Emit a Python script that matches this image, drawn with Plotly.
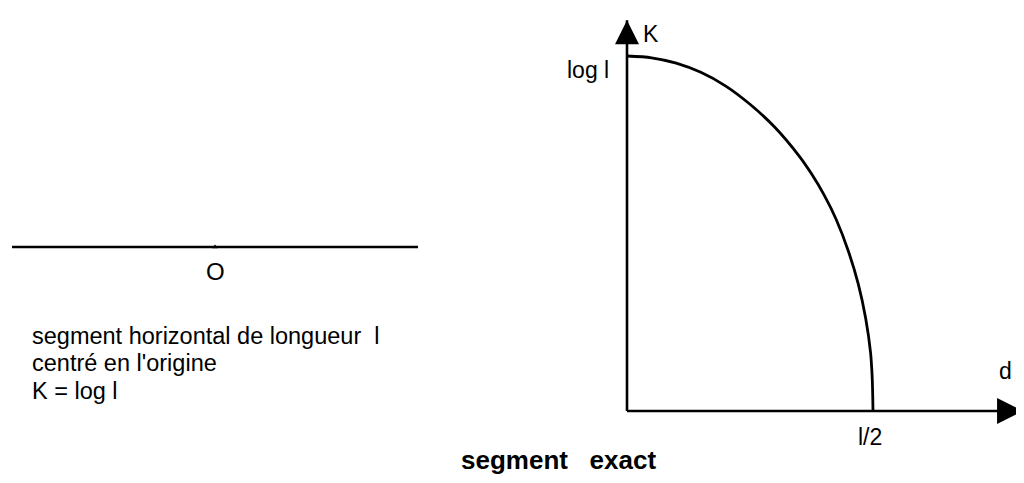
import plotly.graph_objects as go

# ---------------- data ----------------
# right panel: curve K(d) for an exact horizontal segment
# d in units of l/2, K in units of log l
d_values = [0.0, 0.100, 0.200, 0.300, 0.400, 0.500, 0.600, 0.700, 0.750, 0.800, 0.850,
            0.900, 0.940, 0.970, 0.990, 0.997, 1.0]
k_values = [1.0, 0.995, 0.980, 0.954, 0.916, 0.864, 0.800, 0.718, 0.668, 0.610, 0.540,
            0.450, 0.358, 0.262, 0.165, 0.090, 0.0]

# axis extents (arrow tips) of the right panel
d_axis_end = 1.610
k_axis_end = 1.101

# tick labels
x_tick_value, x_tick_label = 1.0, "l/2"
y_tick_value, y_tick_label = 1.0, "log l"
x_axis_label, y_axis_label = "d", "K"

# left panel: horizontal segment of length l centred on the origin (half length = 1)
segment_x = [-1.0, 1.0]
segment_y = [0.0, 0.0]
origin_label = "O"

caption_lines = ["segment horizontal de longueur  l", "centré en l'origine", "K = log l"]
title_text = "segment   exact"

FONT = "Liberation Sans, Arial, Helvetica, sans-serif"
BLACK = "#000000"

fig = go.Figure()

# ---- right panel (xaxis / yaxis) ----
fig.add_trace(go.Scatter(x=[0, d_axis_end], y=[0, 0], mode="lines",
                         line=dict(color=BLACK, width=2.6), hoverinfo="skip"))
fig.add_trace(go.Scatter(x=[0, 0], y=[0, k_axis_end], mode="lines",
                         line=dict(color=BLACK, width=2.6), hoverinfo="skip"))
fig.add_trace(go.Scatter(x=[d_axis_end], y=[0], mode="markers", cliponaxis=False,
                         marker=dict(symbol="arrow-right", size=26, color=BLACK,
                                     line=dict(width=0)), hoverinfo="skip"))
fig.add_trace(go.Scatter(x=[0], y=[k_axis_end], mode="markers", cliponaxis=False,
                         marker=dict(symbol="arrow-up", size=24, color=BLACK,
                                     line=dict(width=0)), hoverinfo="skip"))
fig.add_trace(go.Scatter(x=d_values, y=k_values, mode="lines", line_shape="spline",
                         line=dict(color=BLACK, width=2.8, smoothing=0.8), hoverinfo="skip"))

# ---- left panel (xaxis2 / yaxis2) ----
fig.add_trace(go.Scatter(x=segment_x, y=segment_y, mode="lines", xaxis="x2", yaxis="y2",
                         line=dict(color=BLACK, width=2.3), hoverinfo="skip"))
fig.add_trace(go.Scatter(x=[0], y=[0], mode="markers", xaxis="x2", yaxis="y2",
                         marker=dict(symbol="triangle-up", size=5, color=BLACK),
                         hoverinfo="skip"))

# pixel geometry (page is 1024 x 483; the page body has an 8 px margin)
OFF = 8
W, H = 1024 - OFF, 483 - OFF

def fx(p):  # page x -> figure x
    return p - OFF

def fy(p):  # page y -> figure y
    return p - OFF

# right panel: origin at page px (627, 411); l/2 -> 246 px; log l -> 355 px
x0_px, y0_px, sx, sy = fx(627), fy(411), 246.0, 355.0
xr = [(0 - x0_px) / sx, (W - x0_px) / sx]
yr = [-(H - y0_px) / sy, y0_px / sy]
# left panel: origin at page px (215, 247); half-length -> 203 px; domain x [0, 0.5]
lx0, ly0, lsx = fx(215), fy(247), 203.0
lxr = [-lx0 / lsx, (W * 0.5 - lx0) / lsx]
lyr = [-(H - ly0) / 100.0, ly0 / 100.0]

hidden = dict(visible=False, showgrid=False, zeroline=False, fixedrange=True)

annotations = []
def txt(text, x, y, size, xanchor="center", yanchor="middle", bold=False, xref="paper", yref="paper",
        xshift=0, yshift=0, align="center"):
    annotations.append(dict(text=f"<b>{text}</b>" if bold else text, x=x, y=y, xref=xref, yref=yref,
                            xanchor=xanchor, yanchor=yanchor, showarrow=False, align=align,
                            xshift=xshift, yshift=yshift, borderpad=0,
                            font=dict(family=FONT, size=size, color=BLACK)))

# right panel labels attached to data coordinates
txt(x_tick_label, x_tick_value, 0, 23, xref="x", yref="y", xshift=-3, yshift=-26)
txt(y_tick_label, 0, y_tick_value, 23, xref="x", yref="y", xanchor="right", xshift=-17, yshift=-14)
txt(x_axis_label, d_axis_end, 0, 23, xref="x", yref="y", xshift=-18, yshift=40)
txt(y_axis_label, 0, k_axis_end, 23, xref="x", yref="y", xanchor="left", xshift=15, yshift=-14)

# left panel labels
txt(origin_label, 0, 0, 24, xref="x2", yref="y2", yshift=-24)

# caption block: one text, line pitch 1.3 x 21 px ~ 27 px, glyphs at 23.5 px
CAPTION_SIZE = 23.5
caption_text = "<br>".join(f'<span style="font-size:{CAPTION_SIZE}px">{s}</span>' for s in caption_lines)
txt(caption_text, fx(31) / W, 1 - fy(363) / H, 21, xanchor="left", align="left")

# caption
txt(title_text, fx(558) / W, 1 - fy(460) / H, 26, bold=True)

fig.update_layout(
    width=W, height=H, autosize=False,
    margin=dict(l=0, r=0, t=0, b=0, pad=0),
    paper_bgcolor="white", plot_bgcolor="rgba(0,0,0,0)",
    showlegend=False,
    xaxis=dict(domain=[0, 1], range=xr, **hidden),
    yaxis=dict(domain=[0, 1], range=yr, **hidden),
    xaxis2=dict(domain=[0, 0.5], range=lxr, anchor="y2", **hidden),
    yaxis2=dict(domain=[0, 1], range=lyr, anchor="x2", **hidden),
    annotations=annotations,
)

fig.write_html("out.html", config={"displayModeBar": False})
